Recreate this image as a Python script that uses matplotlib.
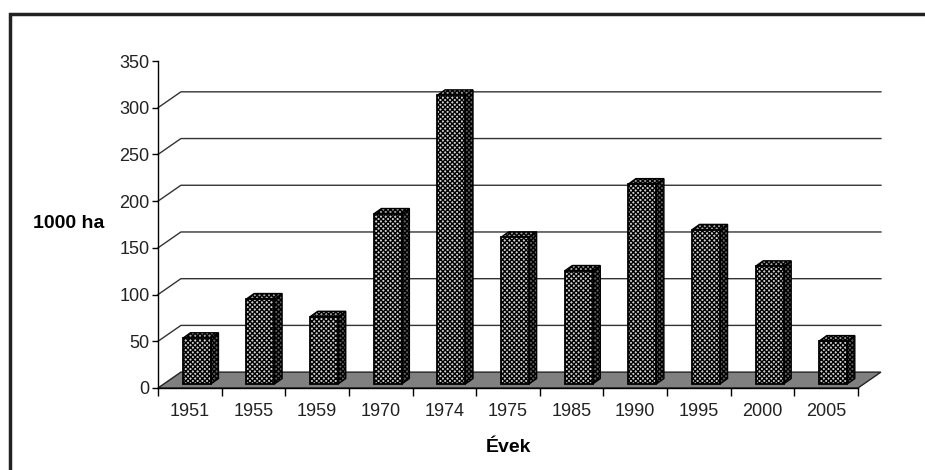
import matplotlib
matplotlib.use('Agg')
import matplotlib.pyplot as plt
from matplotlib.patches import Polygon, Rectangle
import numpy as np

plt.rcParams['font.family'] = ['Liberation Sans', 'DejaVu Sans']

# data
years = ['1951', '1955', '1959', '1970', '1974', '1975', '1985', '1990', '1995', '2000', '2005']
values = [49, 91, 72, 182, 309, 157, 121, 214, 165, 126, 46]
y_ticks = [0, 50, 100, 150, 200, 250, 300, 350]
y_label = '1000 ha'
x_label = 'Évek'

# oblique "3d" look, in data units
DX, DY = 0.36, 17.0        # depth of floor / back wall
BAR_W = 0.44
BAR_OX, BAR_OY = 0.11, 4.3  # where the bar sits in depth
BAR_DX, BAR_DY = 0.12, 5.8  # bar depth

fig = plt.figure(figsize=(9.25, 4.70), dpi=100)
ax = fig.add_axes([158 / 925, 82 / 470, 700 / 925, 327 / 470])
n = len(years)
ax.set_xlim(-0.5, n - 0.5)
ax.set_ylim(0, 350)
ax.patch.set_visible(False)
for s in ['top', 'right']:
    ax.spines[s].set_visible(False)
for s in ['left', 'bottom']:
    ax.spines[s].set_color('black')
    ax.spines[s].set_linewidth(1)

# back wall gridlines
x0, x1 = -0.5, n - 0.5
for v in y_ticks[1:-1]:
    ax.plot([x0, x0 + DX, x1 + DX], [v, v + DY, v + DY], color='#333333', lw=1,
            clip_on=False, zorder=1)

# floor
floor = Polygon([(x0, 0), (x1, 0), (x1 + DX, DY), (x0 + DX, DY)], closed=True,
                facecolor='#808080', edgecolor='#222222', lw=1, clip_on=False, zorder=2)
ax.add_patch(floor)

plt.rcParams['hatch.linewidth'] = 1.0
xs = np.arange(n)
for i, v in zip(xs, values):
    left = i - BAR_W / 2 + BAR_OX
    right = left + BAR_W
    bot = BAR_OY
    top = v + BAR_OY
    side = Polygon([(right, bot), (right + BAR_DX, bot + BAR_DY),
                    (right + BAR_DX, top + BAR_DY), (right, top)], closed=True,
                   facecolor='#606060', edgecolor='black', hatch='xxxxxxx', lw=1,
                   clip_on=False, zorder=3)
    cap = Polygon([(left, top), (right, top), (right + BAR_DX, top + BAR_DY),
                   (left + BAR_DX, top + BAR_DY)], closed=True,
                  facecolor='#a0a0a0', edgecolor='black', hatch='xxxxxxx', lw=1,
                  clip_on=False, zorder=3)
    ax.add_patch(side)
    ax.add_patch(cap)
ax.bar(xs + BAR_OX, values, width=BAR_W, bottom=BAR_OY, facecolor='#d0d0d0',
       edgecolor='black', hatch='xxxxxxx', lw=1.3, clip_on=False, zorder=4)

# ticks
ax.set_yticks(y_ticks)
ax.set_yticklabels([str(t) for t in y_ticks])
ax.set_xticks(xs)
ax.set_xticklabels(years)
ax.set_xticks(np.arange(n + 1) - 0.5, minor=True)
ax.tick_params(axis='y', direction='out', length=4, width=1, pad=2, labelsize=13,
               colors='black', labelcolor='#222222')
ax.tick_params(axis='x', which='major', length=0, pad=11, labelsize=13,
               labelcolor='#222222')
ax.tick_params(axis='x', which='minor', direction='out', length=6, width=1)

fig.text(33 / 925, 1 - 224 / 470, y_label, fontsize=14, fontweight='bold',
         ha='left', va='center')
fig.text(508 / 925, 1 - 448 / 470, x_label, fontsize=14, fontweight='bold',
         ha='center', va='center')

# outer frame, cut by the picture edge on the right and bottom
frame = Rectangle((9.5 / 925, -0.1), 1.2, (470 - 13.5) / 470 + 0.1, transform=fig.transFigure,
                  fill=False, edgecolor='#222222', lw=2.5)
fig.add_artist(frame)

fig.savefig('out.png', dpi=100)
